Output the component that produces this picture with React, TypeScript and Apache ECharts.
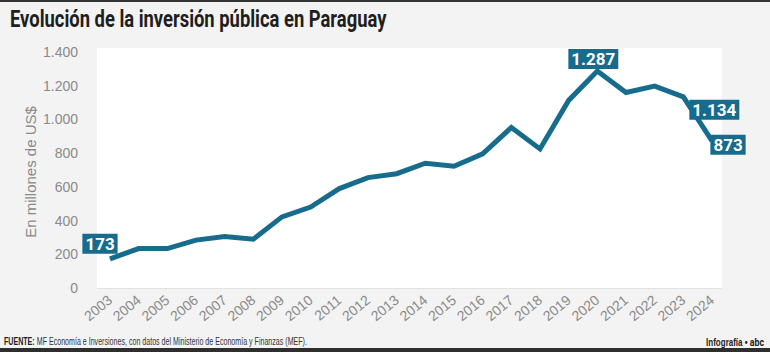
import React, { useEffect, useRef } from "react";
import * as echarts from "echarts";

const years = ["2003","2004","2005","2006","2007","2008","2009","2010","2011","2012","2013","2014","2015","2016","2017","2018","2019","2020","2021","2022","2023","2024"];
const values = [173, 234, 234, 284, 306, 289, 422, 480, 590, 655, 678, 740, 722, 796, 952, 825, 1113, 1287, 1160, 1198, 1134, 873];
const yTicks = [0, 200, 400, 600, 800, 1000, 1200, 1400];

const labelled: Record<number, [number, number]> = {
  0: [-10, -15],
  17: [-4, -12],
  20: [31, 13],
  21: [16, 4],
};

const COLOR = "#176b8d";
const BOLDF = "Roboto, 'Liberation Sans', sans-serif";
const REG = "'Liberation Sans', Arial, sans-serif";

function fmt(v: number): string {
  return v.toLocaleString("de-DE");
}

export default function App() {
  const ref = useRef<HTMLDivElement>(null);
  useEffect(() => {
    document.body.style.margin = "0";
    if (!ref.current) return;
    const chart = echarts.init(ref.current, undefined, { renderer: "svg" });
    const data = values.map((v, i) => {
      const off = labelled[i];
      if (!off) return { value: v };
      return {
        value: v,
        label: {
          show: true,
          position: "inside",
          offset: off,
          formatter: fmt(v),
          color: "#fff",
          fontFamily: BOLDF,
          fontWeight: "bold",
          fontSize: 17,
          backgroundColor: COLOR,
          padding: [1, 3, 0, 3],
          lineHeight: 19,
        },
      };
    });
    chart.setOption({
      animation: false,
      backgroundColor: "#f3f3f3",
      grid: { left: 110, right: 58, top: 52, bottom: 64 },
      xAxis: {
        type: "category",
        data: years,
        boundaryGap: false,
        axisLine: { show: false },
        axisTick: { show: false },
        axisLabel: {
          rotate: 40,
          color: "#8a8a8a",
          fontSize: 14,
          fontFamily: REG,
          margin: 10,
          interval: 0,
        },
      },
      yAxis: {
        type: "value",
        min: yTicks[0],
        max: yTicks[yTicks.length - 1],
        interval: 200,
        splitLine: { show: false },
        axisLine: { show: false },
        axisTick: { show: false },
        axisLabel: {
          color: "#8a8a8a",
          fontSize: 14,
          fontFamily: REG,
          margin: 32,
          formatter: (v: number) => fmt(v),
        },
      },
      graphic: [
        { type: "rect", shape: { x: 0, y: 0, width: 770, height: 2 }, style: { fill: "#333" }, z: -1 },
        { type: "rect", shape: { x: 97, y: 48, width: 625, height: 240 }, style: { fill: "#ffffff" }, z: -10 },
        { type: "line", shape: { x1: 97, y1: 288.5, x2: 722, y2: 288.5 }, style: { stroke: "#e2e2e2", lineWidth: 1 }, z: -5 },
        { type: "rect", shape: { x: 0, y: 348, width: 770, height: 4 }, style: { fill: "#2e2e2e" } },
        {
          type: "text",
          x: 10,
          y: 8,
          scaleX: 0.8,
          style: {
            text: "Evolución de la inversión pública en Paraguay",
            fontFamily: BOLDF,
            fontWeight: "bold",
            fontSize: 23,
            fill: "#1e1e1e",
          },
        },
        {
          type: "text",
          x: 30,
          y: 172,
          rotation: Math.PI / 2,
          style: {
            text: "En millones de US$",
            fontFamily: REG,
            fontSize: 15,
            fill: "#8a8a8a",
            align: "center",
            verticalAlign: "middle",
          },
        },
        {
          type: "text",
          x: 4,
          y: 337,
          scaleX: 0.71,
          style: {
            text: "{b|FUENTE:} MF Economía e Inversiones, con datos del Ministerio de Economía y Finanzas (MEF).",
            fontFamily: REG,
            fontSize: 10,
            fill: "#333",
            rich: { b: { fontWeight: "bold", fontFamily: REG, fontSize: 10, fill: "#222" } },
          },
        },
        {
          type: "text",
          x: 764,
          y: 337,
          scaleX: 0.8,
          style: {
            text: "{a|Infografía •} {c|abc}",
            align: "right",
            fontFamily: REG,
            fontSize: 10,
            fill: "#222",
            rich: {
              a: { fontWeight: "bold", fontFamily: REG, fontSize: 10, fill: "#222" },
              c: { fontWeight: "bold", fontFamily: BOLDF, fontSize: 11, fill: "#222" },
            },
          },
        },
      ],
      series: [
        {
          type: "line",
          data,
          symbol: "circle",
          symbolSize: 1,
          showSymbol: true,
          itemStyle: { color: COLOR },
          lineStyle: { color: COLOR, width: 5, join: "miter" },
          label: { show: false },
          z: 3,
        },
      ],
    });
    return () => chart.dispose();
  }, []);
  return <div ref={ref} style={{ width: 770, height: 352, position: "fixed", left: 0, top: 0 }} />;
}
